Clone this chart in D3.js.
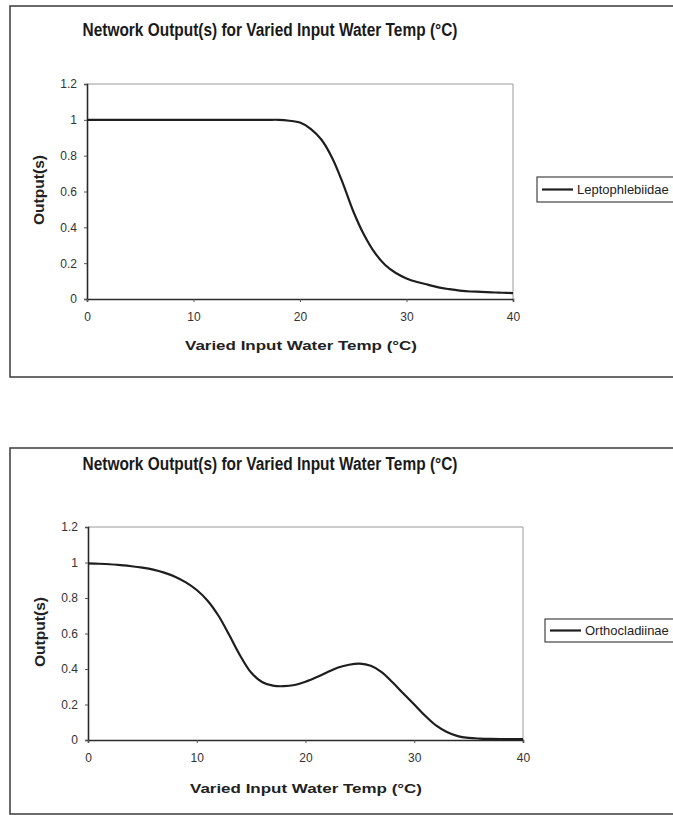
<!DOCTYPE html>
<html>
<head>
<meta charset="utf-8">
<script src="https://cdn.jsdelivr.net/npm/d3@7"></script>
<style>
  html, body { margin: 0; padding: 0; background: #fff; }
  svg { display: block; font-family: "Liberation Sans", Arial, sans-serif; }
</style>
</head>
<body>
<svg id="chart" width="673" height="815"></svg>
<script>
// Input water temperature (°C) for every evaluated point
const temps = d3.range(0, 41);

// Network output, Leptophlebiidae
const leptophlebiidae = [
  1.0, 1.0, 1.0, 1.0, 1.0, 1.0, 1.0, 1.0, 1.0, 1.0,
  1.0, 1.0, 1.0, 1.0, 1.0, 1.0, 1.0, 1.0, 1.0, 0.995,
  0.985, 0.95, 0.89, 0.79, 0.65, 0.49, 0.36, 0.26, 0.19, 0.145,
  0.115, 0.095, 0.08, 0.065, 0.055, 0.047, 0.042, 0.04, 0.037, 0.035,
  0.033
];

// Network output, Orthocladiinae
const orthocladiinae = [
  0.995, 0.993, 0.99, 0.985, 0.979, 0.971, 0.96, 0.943, 0.92, 0.888,
  0.845, 0.785, 0.70, 0.59, 0.475, 0.38, 0.327, 0.306, 0.303, 0.31,
  0.328, 0.353, 0.382, 0.408, 0.424, 0.43, 0.418, 0.383, 0.325, 0.262,
  0.20, 0.137, 0.082, 0.045, 0.022, 0.012, 0.008, 0.006, 0.005, 0.005,
  0.005
];

const xTicks = [0, 10, 20, 30, 40];
const yTicks = [0, 0.2, 0.4, 0.6, 0.8, 1, 1.2];
const chartTitle = "Network Output(s) for Varied Input Water Temp (°C)";
const xTitle = "Varied Input Water Temp (°C)";
const yTitle = "Output(s)";

const svg = d3.select("#chart");

function drawPanel(p) {
  const g = svg.append("g");

  // outer chart frame (runs off the right edge)
  g.append("rect")
    .attr("x", p.frame[0]).attr("y", p.frame[1])
    .attr("width", p.frame[2]).attr("height", p.frame[3])
    .attr("fill", "none").attr("stroke", "#3a3a3a").attr("stroke-width", 1.5);

  const x = d3.scaleLinear().domain([0, 40]).range([p.left, p.right]);
  const y = d3.scaleLinear().domain([0, 1.2]).range([p.bottom, p.top]);

  // plot-area border (top & right in grey)
  g.append("path")
    .attr("d", `M${p.left},${p.top}H${p.right}V${p.bottom}`)
    .attr("fill", "none").attr("stroke", "#9a9a9a").attr("stroke-width", 1);

  // axes
  const yAxis = d3.axisLeft(y).tickValues(yTicks).tickSize(3).tickPadding(7)
    .tickFormat(d => d === 0 || d === 1 ? String(d) : d3.format(".1f")(d));
  const gy = g.append("g").attr("transform", `translate(${p.left},0)`).call(yAxis);
  const xAxis = d3.axisBottom(x).tickValues(xTicks).tickSize(3).tickPadding(10)
    .tickFormat(d3.format("d"));
  const gx = g.append("g").attr("transform", `translate(0,${p.bottom})`).call(xAxis);

  [gx, gy].forEach(a => {
    a.attr("font-size", 12).attr("font-family", "'Liberation Sans', Arial, sans-serif");
    a.select(".domain").attr("stroke", "#2a2a2a").attr("stroke-width", 1.6);
    a.selectAll(".tick line").attr("stroke", "#555");
    a.selectAll(".tick text").attr("fill", "#333");
  });

  // data line
  const line = d3.line()
    .x((d, i) => x(temps[i]))
    .y(d => y(d))
    .curve(d3.curveCatmullRom.alpha(0.5));
  g.append("path")
    .datum(p.values)
    .attr("d", line)
    .attr("fill", "none")
    .attr("stroke", "#1e1e1e")
    .attr("stroke-width", 2.2)
    .attr("stroke-linejoin", "round");

  // chart title
  g.append("text")
    .attr("x", p.titleX).attr("y", p.titleY)
    .attr("text-anchor", "middle")
    .attr("textLength", 375).attr("lengthAdjust", "spacingAndGlyphs")
    .style("font-size", "18px").style("font-weight", "bold")
    .attr("fill", "#1a1a1a")
    .text(chartTitle);

  // x-axis title
  g.append("text")
    .attr("x", p.xTitleX).attr("y", p.xTitleY)
    .attr("text-anchor", "middle")
    .attr("textLength", 232).attr("lengthAdjust", "spacingAndGlyphs")
    .style("font-size", "13px").style("font-weight", "bold")
    .attr("fill", "#222")
    .text(xTitle);

  // y-axis title
  g.append("text")
    .attr("transform", `translate(${p.yTitleX},${p.yTitleY}) rotate(-90)`)
    .attr("text-anchor", "middle")
    .attr("textLength", 70).attr("lengthAdjust", "spacingAndGlyphs")
    .style("font-size", "14px").style("font-weight", "bold")
    .attr("fill", "#222")
    .text(yTitle);

  // legend
  const lg = g.append("g");
  lg.append("rect")
    .attr("x", p.legend[0]).attr("y", p.legend[1])
    .attr("width", 200).attr("height", p.legend[2])
    .attr("fill", "#fff").attr("stroke", "#444").attr("stroke-width", 1.2);
  const ly = p.legend[1] + p.legend[2] / 2;
  lg.append("line")
    .attr("x1", p.legend[0] + 5).attr("x2", p.legend[0] + 36)
    .attr("y1", ly).attr("y2", ly)
    .attr("stroke", "#1e1e1e").attr("stroke-width", 2.2);
  lg.append("text")
    .attr("x", p.legend[0] + 40).attr("y", ly + 4.5)
    .style("font-size", "13px")
    .attr("fill", "#222")
    .text(p.name);
}

drawPanel({
  name: "Leptophlebiidae",
  values: leptophlebiidae,
  frame: [10, 6, 700, 371],
  left: 87, right: 513, top: 84, bottom: 299,
  titleX: 270, titleY: 36,
  xTitleX: 301, xTitleY: 350,
  yTitleX: 44, yTitleY: 190,
  legend: [537, 177, 25]
});

drawPanel({
  name: "Orthocladiinae",
  values: orthocladiinae,
  frame: [10, 448, 700, 366],
  left: 88, right: 523, top: 527, bottom: 740,
  titleX: 270, titleY: 470,
  xTitleX: 306, xTitleY: 793,
  yTitleX: 45, yTitleY: 632,
  legend: [545, 619, 23]
});
</script>
</body>
</html>
